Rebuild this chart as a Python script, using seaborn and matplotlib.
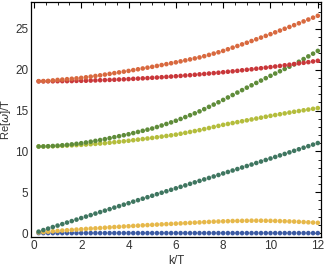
import numpy as np
import pandas as pd
import matplotlib
matplotlib.use("Agg")
import matplotlib.pyplot as plt
import seaborn as sns
from matplotlib.ticker import MultipleLocator

# wave numbers k/T
k = [round(0.2 * i, 1) for i in range(1, 61)]

# Re[w]/T for each branch
blue = [0.0] * 60

yellow = [0.08, 0.12, 0.17, 0.22, 0.27, 0.31, 0.35, 0.39, 0.43, 0.47,
          0.51, 0.55, 0.58, 0.62, 0.66, 0.70, 0.74, 0.77, 0.81, 0.84,
          0.88, 0.91, 0.95, 0.98, 1.01, 1.04, 1.07, 1.10, 1.13, 1.16,
          1.19, 1.22, 1.25, 1.28, 1.31, 1.34, 1.37, 1.40, 1.42, 1.44,
          1.46, 1.48, 1.49, 1.50, 1.51, 1.52, 1.52, 1.52, 1.51, 1.50,
          1.49, 1.47, 1.45, 1.43, 1.41, 1.38, 1.35, 1.32, 1.29, 1.26]

teal = [0.18, 0.37, 0.55, 0.74, 0.92, 1.10, 1.29, 1.47, 1.65, 1.84,
        2.02, 2.20, 2.39, 2.57, 2.75, 2.93, 3.12, 3.30, 3.48, 3.66,
        3.85, 4.03, 4.21, 4.39, 4.57, 4.76, 4.94, 5.12, 5.30, 5.48,
        5.66, 5.84, 6.03, 6.21, 6.39, 6.57, 6.75, 6.93, 7.11, 7.30,
        7.48, 7.66, 7.84, 8.03, 8.21, 8.39, 8.58, 8.76, 8.95, 9.13,
        9.32, 9.51, 9.69, 9.88, 10.07, 10.26, 10.45, 10.64, 10.83, 11.02]

yellowgreen = [10.60, 10.60, 10.61, 10.63, 10.65, 10.68, 10.71, 10.74, 10.77, 10.80,
               10.84, 10.88, 10.92, 10.96, 11.00, 11.06, 11.12, 11.18, 11.24, 11.30,
               11.37, 11.44, 11.51, 11.58, 11.65, 11.73, 11.81, 11.89, 11.97, 12.05,
               12.16, 12.27, 12.38, 12.49, 12.60, 12.73, 12.86, 12.99, 13.12, 13.25,
               13.36, 13.47, 13.58, 13.69, 13.80, 13.91, 14.02, 14.13, 14.24, 14.35,
               14.45, 14.55, 14.65, 14.75, 14.85, 14.94, 15.03, 15.12, 15.21, 15.30]

green = [10.60, 10.61, 10.63, 10.66, 10.70, 10.75, 10.80, 10.86, 10.93, 11.00,
         11.09, 11.19, 11.29, 11.39, 11.50, 11.62, 11.74, 11.86, 11.98, 12.10,
         12.24, 12.38, 12.52, 12.66, 12.80, 12.98, 13.17, 13.36, 13.55, 13.75,
         13.97, 14.20, 14.43, 14.66, 14.90, 15.17, 15.45, 15.73, 16.01, 16.30,
         16.60, 16.90, 17.20, 17.50, 17.80, 18.09, 18.38, 18.67, 18.96, 19.25,
         19.53, 19.81, 20.09, 20.37, 20.65, 20.97, 21.30, 21.63, 21.96, 22.30]

red = [18.57, 18.57, 18.58, 18.58, 18.59, 18.60, 18.60, 18.61, 18.63, 18.64,
       18.65, 18.67, 18.69, 18.71, 18.73, 18.75, 18.77, 18.80, 18.82, 18.85,
       18.88, 18.91, 18.94, 18.97, 19.01, 19.04, 19.08, 19.12, 19.16, 19.20,
       19.24, 19.29, 19.33, 19.38, 19.43, 19.48, 19.53, 19.58, 19.63, 19.69,
       19.75, 19.80, 19.86, 19.93, 19.99, 20.05, 20.12, 20.18, 20.25, 20.32,
       20.39, 20.46, 20.54, 20.61, 20.69, 20.77, 20.84, 20.92, 21.01, 21.09]

orange = [18.60, 18.61, 18.63, 18.69, 18.75, 18.79, 18.84, 18.89, 18.94, 19.00,
          19.07, 19.15, 19.23, 19.31, 19.40, 19.49, 19.58, 19.67, 19.76, 19.85,
          19.95, 20.05, 20.15, 20.25, 20.35, 20.46, 20.57, 20.68, 20.79, 20.90,
          21.02, 21.14, 21.26, 21.38, 21.50, 21.65, 21.81, 21.97, 22.13, 22.30,
          22.50, 22.70, 22.90, 23.10, 23.30, 23.51, 23.72, 23.93, 24.14, 24.35,
          24.57, 24.79, 25.01, 25.23, 25.45, 25.68, 25.91, 26.14, 26.37, 26.60]

branches = ["blue", "yellow", "teal", "yellowgreen", "green", "red", "orange"]
colors = ["#3b5aa3", "#e6b84a", "#3f7660", "#b4bd3c", "#5f8c3a", "#c9373a", "#d8693f"]
series = [blue, yellow, teal, yellowgreen, green, red, orange]

df = pd.concat([pd.DataFrame({"k": k, "w": vals, "branch": name})
                for name, vals in zip(branches, series)], ignore_index=True)

sns.set_style("white")
plt.rcParams["font.family"] = ["Liberation Sans", "DejaVu Sans"]

fig = plt.figure(figsize=(3.27, 2.68), dpi=100)
ax = fig.add_axes([0.095, 0.115, 0.887, 0.878])

sns.scatterplot(data=df, x="k", y="w", hue="branch", palette=dict(zip(branches, colors)),
                s=11, linewidth=0, legend=False, ax=ax)

ax.set_xlim(-0.12, 12.14)
ax.set_ylim(-0.5, 28.3)
ax.xaxis.set_major_locator(MultipleLocator(2))
ax.xaxis.set_minor_locator(MultipleLocator(0.5))
ax.yaxis.set_major_locator(MultipleLocator(5))
ax.yaxis.set_minor_locator(MultipleLocator(1))
ax.tick_params(which="both", direction="in", top=True, right=True, color="black",
               labelsize=8.5, labelcolor="#333333", pad=2)
ax.tick_params(which="major", length=4, width=0.8)
ax.tick_params(which="minor", length=2, width=0.6)
for sp in ax.spines.values():
    sp.set_color("black")
    sp.set_linewidth(0.9)

ax.set_xlabel("k/T", fontsize=8.5, color="#333333", labelpad=2)
ax.set_ylabel("Re[$\\omega$]/T", fontsize=8, color="#333333")
ax.yaxis.set_label_coords(-0.063, 0.5)

fig.savefig("out.png", dpi=100)
